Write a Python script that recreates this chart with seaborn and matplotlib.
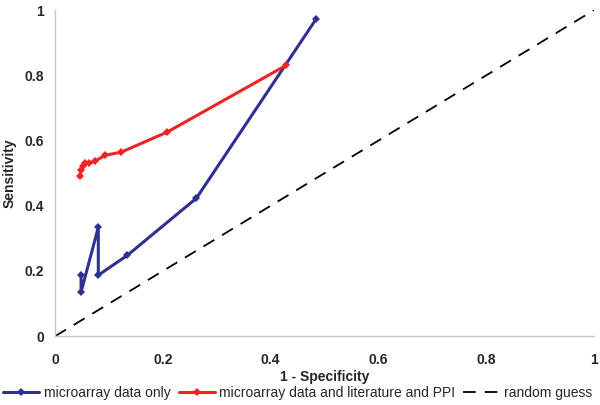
import matplotlib
matplotlib.use('Agg')
import matplotlib.pyplot as plt
import seaborn as sns
import pandas as pd

# ROC points
micro_fpr = [0.048, 0.048, 0.080, 0.080, 0.134, 0.262, 0.484]
micro_tpr = [0.187, 0.135, 0.334, 0.187, 0.248, 0.423, 0.972]

lit_fpr = [0.046, 0.048, 0.052, 0.056, 0.063, 0.074, 0.093, 0.122, 0.208, 0.429]
lit_tpr = [0.491, 0.509, 0.521, 0.531, 0.531, 0.537, 0.555, 0.564, 0.626, 0.831]

guess_fpr = [0, 1]
guess_tpr = [0, 1]

ticks = [0, 0.2, 0.4, 0.6, 0.8, 1]
tick_labels = ['0', '0.2', '0.4', '0.6', '0.8', '1']

sns.set_style("white")
plt.rcParams['font.family'] = ['Liberation Sans', 'DejaVu Sans']

fig = plt.figure(figsize=(6, 4.05), dpi=100)
ax = fig.add_axes([0.092, 0.170, 0.898, 0.805])

df_micro = pd.DataFrame({'fpr': micro_fpr, 'tpr': micro_tpr})
df_lit = pd.DataFrame({'fpr': lit_fpr, 'tpr': lit_tpr})

sns.lineplot(data=df_micro, x='fpr', y='tpr', sort=False, estimator=None, ax=ax,
             color='#2e3192', lw=2.2, marker='D', markersize=4, markeredgewidth=0,
             label='microarray data only')
sns.lineplot(data=df_lit, x='fpr', y='tpr', sort=False, estimator=None, ax=ax,
             color='#ed2324', lw=2.2, marker='D', markersize=4, markeredgewidth=0,
             label='microarray data and literature and PPI')
ax.plot(guess_fpr, guess_tpr, color='black', lw=1.3, dashes=(7, 5), label='random guess')

ax.set_xlim(0, 1)
ax.set_ylim(0, 1)
ax.set_xticks(ticks)
ax.set_xticklabels(tick_labels, fontweight='bold', fontsize=10)
ax.set_yticks(ticks)
ax.set_yticklabels(tick_labels, fontweight='bold', fontsize=10)
ax.set_xlabel('1 - Specificity', fontweight='bold', fontsize=10, labelpad=2)
ax.set_ylabel('Sensitivity', fontweight='bold', fontsize=10, labelpad=6)

for s in ['top', 'right']:
    ax.spines[s].set_visible(False)
for s in ['left', 'bottom']:
    ax.spines[s].set_color('#c8c8c8')
    ax.spines[s].set_linewidth(1)
ax.tick_params(axis='both', length=4, color='#c8c8c8', direction='out', pad=8)
ax.tick_params(axis='y', pad=4)

ax.legend(loc='upper center', bbox_to_anchor=(0.45, -0.135), ncol=3, frameon=False,
          fontsize=10, handlelength=2.6, columnspacing=0.6, handletextpad=0.3,
          borderaxespad=0)

fig.savefig('out.png', dpi=100)
